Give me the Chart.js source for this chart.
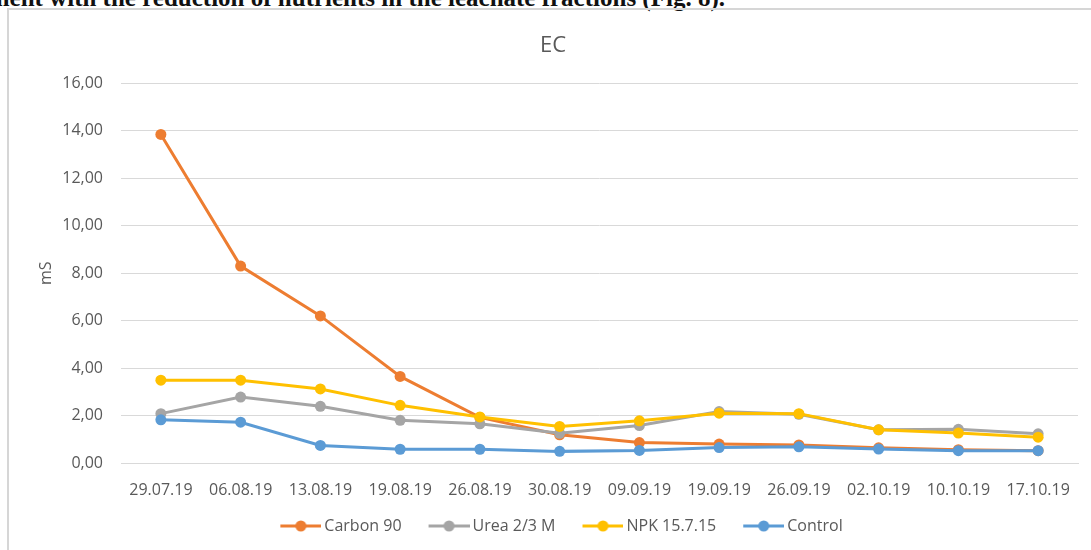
<!DOCTYPE html>
<html>
<head>
<meta charset="utf-8">
<script src="https://cdn.jsdelivr.net/npm/chart.js@4/dist/chart.umd.min.js"></script>
<style>
  html, body { margin:0; padding:0; background:#fff; width:1091px; height:550px; overflow:hidden; position:relative; }
  #caption { position:absolute; right:366px; top:-15px; font-family:"Liberation Serif", serif; font-size:25px; font-weight:bold; line-height:25px; white-space:nowrap; color:#111; }
  #frame { position:absolute; left:7px; top:8px; width:1100px; height:560px; border:2px solid #d6d6d6; box-sizing:border-box; }
  #wrap { position:absolute; left:9px; top:10px; width:1088px; height:540px; }
</style>
</head>
<body>
<div id="caption">ment with the reduction of nutrients in the leachate fractions (Fig. 8).</div>
<div id="frame"></div>
<div id="wrap"><canvas id="c" width="1088" height="540"></canvas></div>
<script>
const categories = ["29.07.19","06.08.19","13.08.19","19.08.19","26.08.19","30.08.19","09.09.19","19.09.19","26.09.19","02.10.19","10.10.19","17.10.19"];
const carbon90 = [13.85, 8.30, 6.20, 3.65, 1.92, 1.19, 0.86, 0.80, 0.76, 0.64, 0.56, 0.52];
const urea = [2.08, 2.78, 2.39, 1.80, 1.65, 1.25, 1.58, 2.17, 2.05, 1.40, 1.42, 1.23];
const npk = [3.49, 3.49, 3.12, 2.43, 1.94, 1.54, 1.78, 2.10, 2.08, 1.40, 1.26, 1.09];
const control = [1.82, 1.72, 0.74, 0.58, 0.58, 0.49, 0.53, 0.65, 0.68, 0.59, 0.52, 0.52];
const seriesNames = ["Carbon 90", "Urea 2/3 M", "NPK 15.7.15", "Control"];
const seriesColors = ["#ED7D31", "#A5A5A5", "#FFC000", "#5B9BD5"];
const yTicks = { min: 0, max: 16, step: 2 };

const textColor = "#595959";
const fontFamily = "'Open Sans', sans-serif";

// legend icon: box width 53, image 63 wide (centered => spans -5..58 of box)
const LEG_BOX = 53;
function legendIcon(color) {
  const cv = document.createElement('canvas');
  cv.width = LEG_BOX + 10; cv.height = 14;
  const g = cv.getContext('2d');
  const x1 = cv.width, x0 = x1 - 41;
  g.strokeStyle = color; g.lineWidth = 3;
  g.beginPath(); g.moveTo(x0, 7); g.lineTo(x1, 7); g.stroke();
  g.fillStyle = color;
  g.beginPath(); g.arc((x0 + x1) / 2, 7, 5.5, 0, Math.PI * 2); g.fill();
  return cv;
}
const icons = seriesColors.map(legendIcon);

const values = [carbon90, urea, npk, control];
const datasets = values.map((v, i) => ({
  label: seriesNames[i],
  data: v,
  borderColor: seriesColors[i],
  backgroundColor: seriesColors[i],
  borderWidth: 3,
  pointRadius: 5.5,
  pointHoverRadius: 5.5,
  pointBorderWidth: 0,
  tension: 0,
  order: values.length - i
}));

new Chart(document.getElementById('c'), {
  type: 'line',
  data: { labels: categories, datasets },
  options: {
    responsive: false,
    animation: false,
    devicePixelRatio: 1,
    layout: { padding: { left: 19, right: 19, top: 0, bottom: 6 } },
    plugins: {
      tooltip: { enabled: false },
      title: {
        display: true, text: 'EC', color: textColor,
        font: { family: fontFamily, size: 22, weight: 'normal' },
        padding: { top: 23, bottom: 24 }
      },
      legend: {
        position: 'bottom',
        labels: {
          color: textColor,
          font: { family: fontFamily, size: 16 },
          usePointStyle: true,
          pointStyleWidth: LEG_BOX,
          boxHeight: 14,
          padding: 10,
          generateLabels: (chart) => chart.data.datasets.map((ds, i) => ({
            text: ds.label,
            fillStyle: ds.borderColor,
            strokeStyle: ds.borderColor,
            lineWidth: 0,
            pointStyle: icons[i],
            fontColor: textColor,
            hidden: false,
            datasetIndex: i
          }))
        }
      }
    },
    scales: {
      x: {
        offset: true,
        grid: { display: false, drawTicks: false },
        border: { display: true, color: '#d9d9d9', width: 1 },
        ticks: { color: textColor, font: { family: fontFamily, size: 16 }, padding: 18, maxRotation: 0, autoSkip: false },
        afterFit: (s) => { s.height = 45; }
      },
      y: {
        min: yTicks.min, max: yTicks.max,
        grid: { color: '#d9d9d9', lineWidth: 1, drawTicks: false },
        border: { display: false },
        ticks: {
          stepSize: yTicks.step, color: textColor, padding: 18,
          font: { family: fontFamily, size: 16 },
          callback: (v) => Number(v).toFixed(2).replace('.', ',')
        },
        title: { display: true, text: 'mS', color: textColor, font: { family: fontFamily, size: 16 }, padding: { top: 9, bottom: 0 } },
        afterFit: (s) => { s.width = 93; }
      }
    }
  }
});
</script>
</body>
</html>
